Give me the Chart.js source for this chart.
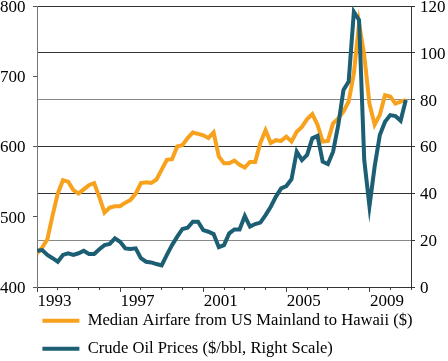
<!DOCTYPE html>
<html lang="en">

<head>
    <meta charset="UTF-8">
    <title>Hawaii airfare vs crude oil</title>
    <script src="https://cdn.jsdelivr.net/npm/chart.js"></script>
    <style>
        body { margin: 0; background: #fff; }
        .graph { width: 448px; height: 361px; }
    </style>
</head>

<body>
    <div class="graph">
        <canvas id="lineChart"></canvas>
    </div>

<script>
    // quarterly data, 1993 Q1 .. 2010 Q4
    var firstYear = 1993;
    var yearLabels = [1993, 1997, 2001, 2005, 2009];

    // median airfare, $ (left scale)
    var airfare = [448, 456, 468, 502, 533, 552, 550, 538, 533, 539, 545, 548,
        528, 506, 513, 515, 515, 520, 524, 533, 548, 549, 548, 553,
        567, 581, 582, 600, 602, 612, 620, 618, 616, 612, 620, 586,
        576, 576, 580, 574, 570, 578, 578, 605, 623, 605, 609, 608,
        614, 607, 621, 628, 639, 646, 631, 607, 608, 633, 640, 650,
        664, 704, 775, 730, 661, 631, 645, 673, 671, 661, 664, 666];

    // crude oil, $/bbl (right scale)
    var oilPrice = [15.5, 15.8, 13.7, 12.3, 10.8, 13.7, 14.4, 13.7, 14.4, 15.5, 14.1, 14.1,
        16.1, 17.9, 18.4, 20.8, 19.3, 16.5, 16.2, 16.5, 12.3, 10.8, 10.5, 9.8,
        9.2, 13.7, 17.9, 21.5, 24.8, 25.3, 27.9, 27.9, 24.3, 23.6, 22.6, 17.0,
        17.9, 22.9, 24.6, 24.6, 30.3, 25.8, 26.9, 27.5, 30.7, 34.3, 38.6, 42.1,
        43.1, 46.0, 57.8, 54.2, 56.4, 63.5, 64.5, 53.5, 52.5, 57.8, 69.2, 84.1,
        87.7, 117.5, 114, 54.2, 34.5, 51.4, 64.9, 70.6, 73.4, 73.0, 71.0, 79.9];

    var seriesNames = ["Median Airfare from US Mainland to Hawaii ($)", "Crude Oil Prices ($/bbl, Right Scale)"];

    function toPoints(arr) {
        return arr.map(function (v, i) { return { x: firstYear + i / 4, y: v }; });
    }

    var fontFam = "'Liberation Serif', 'Times New Roman', serif";

    // legend sits under the axis labels, lined up with the plot's left edge
    var legendPlace = {
        id: "legendPlace",
        afterLayout: function (chart) {
            var lg = chart.legend;
            lg.left = 31;
            lg.top = chart.chartArea.bottom + 14;
            lg.bottom = chart.height;
        }
    };

    function fixWidth(w) {
        return function (scale) {
            scale.width = w;
            scale.paddingTop = 0;
            scale.paddingBottom = 0;
        };
    }

    const config = {
        type: "line",
        data: {
            datasets: [
                {
                    label: seriesNames[0],
                    data: toPoints(airfare),
                    borderColor: "#F8A11C",
                    backgroundColor: "#F8A11C",
                    borderWidth: 4,
                    pointRadius: 0,
                    tension: 0,
                    yAxisID: "y",
                    order: 1
                },
                {
                    label: seriesNames[1],
                    data: toPoints(oilPrice),
                    borderColor: "#1C5E73",
                    backgroundColor: "#1C5E73",
                    borderWidth: 4,
                    pointRadius: 0,
                    tension: 0,
                    yAxisID: "y1",
                    order: 0
                }
            ]
        },
        options: {
            responsive: true,
            maintainAspectRatio: false,
            animation: false,
            layout: { padding: { left: 0, right: 2, top: 6, bottom: 0 } },
            plugins: {
                tooltip: { enabled: false },
                legend: {
                    position: "bottom",
                    align: "start",
                    maxHeight: 51,
                    labels: {
                        font: { family: fontFam, size: 16.6 },
                        color: "#000",
                        padding: 11.4,
                        boxWidth: 37,
                        boxHeight: 4,
                        sort: function (a, b) { return a.datasetIndex - b.datasetIndex; },
                        generateLabels: function (chart) {
                            return Chart.defaults.plugins.legend.labels.generateLabels(chart).map(function (l) {
                                l.fillStyle = l.strokeStyle;
                                l.lineWidth = 0;
                                return l;
                            });
                        }
                    }
                }
            },
            scales: {
                x: {
                    type: "linear",
                    min: firstYear,
                    max: firstYear + airfare.length / 4,
                    afterBuildTicks: function (scale) {
                        var t = [];
                        for (var y = scale.min; y <= scale.max; y++) t.push({ value: y });
                        scale.ticks = t;
                    },
                    afterFit: function (scale) { scale.height = 23; },
                    ticks: {
                        autoSkip: false,
                        maxRotation: 0,
                        padding: 1,
                        labelOffset: 17.5,
                        color: "#000",
                        font: { family: fontFam, size: 17, lineHeight: 1 },
                        callback: function (v) { return yearLabels.indexOf(v) >= 0 ? String(v) : ""; }
                    },
                    grid: {
                        drawOnChartArea: false,
                        tickLength: 5,
                        tickColor: "#444",
                        tickBorderDash: function (ctx) {
                            return (ctx.tick && (ctx.tick.value - firstYear) % 4 === 0) ? [] : [2, 20];
                        }
                    },
                    border: { color: "#333", width: 1 }
                },
                y: {
                    position: "left",
                    min: 400,
                    max: 800,
                    afterFit: fixWidth(37),
                    ticks: {
                        stepSize: 100,
                        padding: 7.5,
                        labelOffset: 1.5,
                        color: "#000",
                        font: { family: fontFam, size: 17, lineHeight: 0.7 }
                    },
                    grid: { drawOnChartArea: false, tickLength: 4, tickColor: "#555" },
                    border: { color: "#777", width: 1 }
                },
                y1: {
                    position: "right",
                    min: 0,
                    max: 120,
                    afterFit: fixWidth(35),
                    ticks: {
                        stepSize: 20,
                        padding: 5,
                        labelOffset: 1.5,
                        color: "#000",
                        font: { family: fontFam, size: 17, lineHeight: 0.7 }
                    },
                    grid: {
                        tickLength: 4,
                        tickColor: "#333",
                        color: function (ctx) {
                            var v = ctx.tick ? ctx.tick.value : 0;
                            return (v === 80 || v === 20) ? "#888" : "#333";
                        }
                    },
                    border: { color: "#333", width: 1 }
                }
            }
        },
        plugins: [legendPlace]
    };

    // make sure the serif font is ready before the labels get measured
    document.fonts.load("17px 'Liberation Serif'").then(function () {
        var mychartLine = new Chart(document.getElementById("lineChart"), config);
    });
</script>
</body>

</html>
